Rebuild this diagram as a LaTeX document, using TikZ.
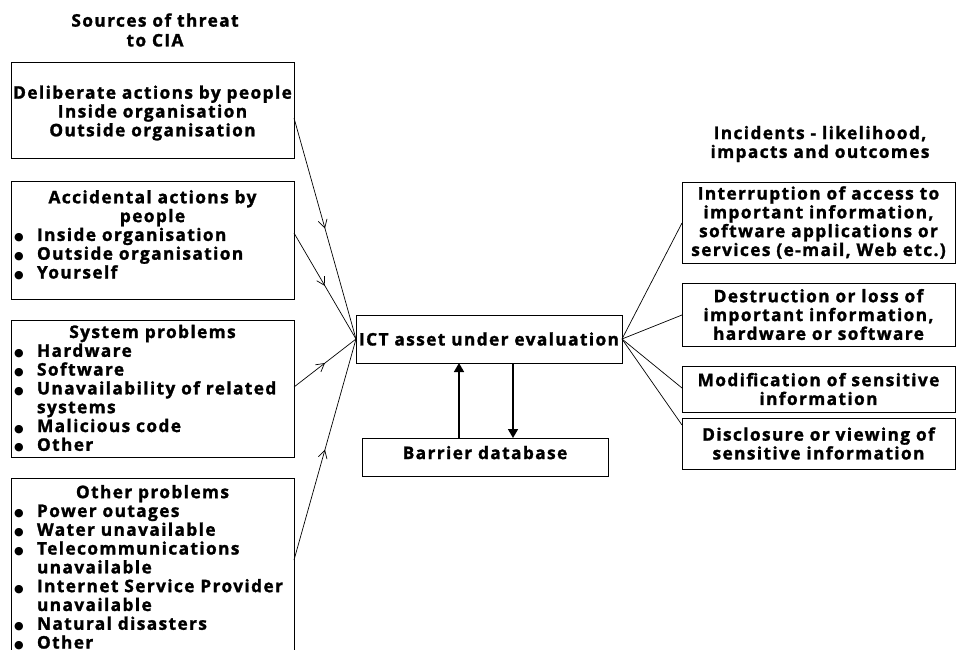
\documentclass[tikz,border=0pt]{standalone}
\usepackage{fontspec}
\setmainfont{Open Sans}[LetterSpace=8]
\newfontfamily\symfont{DejaVu Sans}
\usetikzlibrary{arrows.meta,calc,decorations.markings}

% bullet item with hanging indent
\newcommand\bul{\makebox[26pt][l]{\hspace{3pt}{\symfont\fontsize{11}{11}\selectfont ●}}}
\newcommand\itm[1]{\par\noindent\hangindent=26pt\hangafter=1\bul#1}

\tikzset{
  box/.style={draw, line width=0.9pt, anchor=north west, inner sep=0pt, outer sep=0pt},
  txt/.style={font=\fontsize{17.3}{18.8}\selectfont\bfseries\addfontfeature{FakeBold=1.5}},
  feed/.style={line width=0.7pt, postaction={decorate},
    decoration={markings, mark=at position 0.5 with {\arrow{Straight Barb[length=8pt,width=9pt]}}}},
  linkline/.style={line width=0.7pt},
  flow/.style={line width=1.6pt, -{Triangle[length=9pt,width=10pt]}}
}

\begin{document}
\begin{tikzpicture}[x=1pt,y=-1pt]
\clip (0,0) rectangle (957,649);
\useasboundingbox (0,0) rectangle (957,649);

% headings
\node[txt, align=center] (srchead) at (155,30) {Sources of threat\\[1pt]to CIA};
\node[txt, align=center] (inchead) at (820,144) {Incidents - likelihood,\\impacts and outcomes};

% sources of threat
\node[box, txt, minimum width=283pt, minimum height=96pt] (b1) at (11,62)
  {\parbox{283pt}{\vspace*{6pt}\centering Deliberate actions by people\\Inside organisation\\Outside organisation}};
\node[box, txt, minimum width=283pt, minimum height=118pt] (b2) at (11,181)
  {\parbox{283pt}{{\centering Accidental actions by\\people\par}\raggedright
   \itm{Inside organisation}\itm{Outside organisation}\itm{Yourself}\par\vspace{10pt}}};
\node[box, txt, minimum width=283pt, minimum height=137pt] (b3) at (11,320)
  {\parbox{283pt}{{\centering System problems\par}\raggedright
   \itm{Hardware}\itm{Software}\itm{Unavailability of related\newline systems}\itm{Malicious code}\itm{Other}}};
\node[box, txt, minimum width=283pt, minimum height=190pt, anchor=north west] (b4) at (11,478)
  {\parbox[t][188pt][t]{283pt}{\vspace{6pt}{\centering Other problems\par}\raggedright
   \itm{Power outages}\itm{Water unavailable}\itm{Telecommunications\newline unavailable}
   \itm{Internet Service Provider\newline unavailable}\itm{Natural disasters}\itm{Other}}};

% asset and barrier database
\node[box, txt, minimum width=266pt, minimum height=48pt] (ict) at (356,315) {ICT asset under evaluation};
\node[box, txt, minimum width=246pt, minimum height=38pt] (bar) at (362,438)
  {\raisebox{9pt}{Barrier database}};

% incidents
\node[box, txt, minimum width=273pt, minimum height=81pt] (r1) at (682,182)
  {\parbox{273pt}{\centering Interruption of access to\\important information,\\software applications or\\services (e-mail, Web etc.)}};
\node[box, txt, minimum width=273pt, minimum height=63pt] (r2) at (682,283)
  {\parbox{273pt}{\centering Destruction or loss of\\important information,\\hardware or software}};
\node[box, txt, minimum width=273pt, minimum height=46pt] (r3) at (682,366)
  {\parbox{273pt}{\centering Modification of sensitive\\information}};
\node[box, txt, minimum width=273pt, minimum height=51pt] (r4) at (682,418)
  {\parbox{273pt}{\centering Disclosure or viewing of\\sensitive information}};

% connectors into the asset
\coordinate (s1) at ($(b1.north east)+(0,56)$);
\coordinate (s2) at ($(b2.north east)+(0,52)$);
\coordinate (s3) at ($(b3.north east)+(0,67)$);
\coordinate (s4) at ($(b4.north east)+(0,82)$);
\foreach \src in {s1,s2,s3,s4} \draw[feed] (\src) -- (ict.west);

% connectors to the incidents
\coordinate (t1) at ($(r1.north west)+(0,41)$);
\coordinate (t2) at ($(r2.north west)+(0,32)$);
\coordinate (t3) at ($(r3.north west)+(0,22)$);
\coordinate (t4) at ($(r4.north west)+(0,7)$);
\foreach \dst in {t1,t2,t3,t4} \draw[linkline] (ict.east) -- (\dst);

% exchange with the barrier database
\coordinate (up) at ($(bar.north west)+(97,0)$);
\coordinate (dn) at ($(bar.north west)+(151,0)$);
\draw[flow] (up) -- (up |- ict.south);
\draw[flow] (dn |- ict.south) -- (dn);
\end{tikzpicture}
\end{document}
